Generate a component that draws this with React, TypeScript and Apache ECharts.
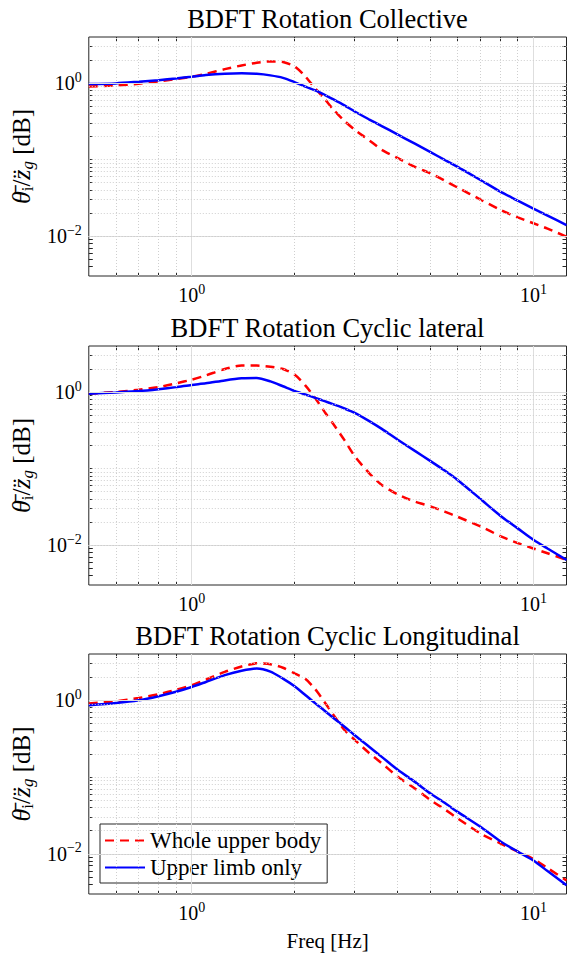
import React, { useEffect, useRef } from "react";
import * as echarts from "echarts";

// ---------- data ----------
const freq = [0.5, 0.6, 0.7, 0.8, 0.9, 1.0, 1.1, 1.25, 1.4, 1.55, 1.7, 1.85, 2.0, 2.15, 2.3, 2.45, 2.6, 2.8, 3.0, 3.3, 3.6, 4.0, 4.5, 5.0, 5.5, 6.0, 7.0, 8.0, 9.0, 10.0, 11.0, 12.5];

const collectiveWhole = [0.90, 0.93, 0.98, 1.05, 1.13, 1.21, 1.32, 1.52, 1.70, 1.84, 1.92, 1.88, 1.65, 1.22, 0.85, 0.62, 0.45, 0.32, 0.245, 0.18, 0.134, 0.105, 0.080, 0.066, 0.053, 0.043, 0.030, 0.022, 0.0175, 0.0147, 0.0125, 0.0098];
const collectiveLimb = [0.97, 0.99, 1.04, 1.09, 1.15, 1.21, 1.27, 1.32, 1.34, 1.32, 1.26, 1.17, 1.03, 0.90, 0.80, 0.70, 0.61, 0.51, 0.425, 0.336, 0.274, 0.213, 0.161, 0.125, 0.099, 0.080, 0.054, 0.038, 0.029, 0.0228, 0.0185, 0.0139];

const lateralWhole = [0.95, 1.00, 1.07, 1.16, 1.30, 1.45, 1.65, 2.00, 2.22, 2.22, 2.14, 2.0, 1.69, 1.22, 0.83, 0.55, 0.38, 0.235, 0.145, 0.088, 0.061, 0.046, 0.037, 0.032, 0.0273, 0.0234, 0.0175, 0.0131, 0.0106, 0.0090, 0.0078, 0.0064];
const lateralLimb = [0.95, 0.99, 1.03, 1.09, 1.16, 1.24, 1.30, 1.42, 1.51, 1.53, 1.38, 1.19, 1.035, 0.93, 0.84, 0.76, 0.69, 0.61, 0.535, 0.42, 0.33, 0.24, 0.170, 0.125, 0.094, 0.071, 0.040, 0.0242, 0.0165, 0.0117, 0.0090, 0.0064];

const longitudinalWhole = [0.905, 0.97, 1.07, 1.20, 1.37, 1.57, 1.85, 2.34, 2.75, 3.02, 2.95, 2.65, 2.24, 1.90, 1.39, 0.944, 0.644, 0.41, 0.305, 0.207, 0.151, 0.102, 0.0708, 0.050, 0.038, 0.029, 0.0184, 0.0137, 0.0107, 0.0086, 0.00653, 0.0045];
const longitudinalLimb = [0.86, 0.92, 1.00, 1.13, 1.29, 1.49, 1.73, 2.12, 2.42, 2.59, 2.36, 1.91, 1.52, 1.17, 0.91, 0.73, 0.587, 0.452, 0.35, 0.25, 0.183, 0.125, 0.0865, 0.061, 0.0463, 0.0352, 0.0225, 0.0146, 0.0107, 0.0082, 0.00596, 0.0039];

const panelTitles = ["BDFT Rotation Collective", "BDFT Rotation Cyclic lateral", "BDFT Rotation Cyclic Longitudinal"];
const seriesNames = ["Whole upper body", "Upper limb only"];
const xAxisTitle = "Freq [Hz]";

const xRange = [0.5, 12.5];
const yRange = [0.003, 4];
const xMajorTicks = [1, 10];
const xMinorTicks = [0.6, 0.7, 0.8, 0.9, 2, 3, 4, 5, 6, 7, 8, 9];
const yMajorTicks = [0.01, 1];
const yMinorTicks = [0.004, 0.005, 0.006, 0.007, 0.008, 0.009, 0.02, 0.03, 0.04, 0.05, 0.06, 0.07, 0.08, 0.09, 0.1, 0.2, 0.3, 0.4, 0.5, 0.6, 0.7, 0.8, 0.9, 2, 3];

const panels = [
  [collectiveWhole, collectiveLimb],
  [lateralWhole, lateralLimb],
  [longitudinalWhole, longitudinalLimb],
];

// ---------- styling ----------
const FONT = "Liberation Serif, Times New Roman, serif";
const INK = "#262626";
const gridTops = [37, 346, 654];
const gridHeights = [239, 239, 240];
const titleTops = [5, 314, 622];
const colors = ["#ff0000", "#0000ff"];

function powLabel(v: number): string {
  const e = Math.round(Math.log10(v));
  return `{b|10}{s|${e < 0 ? "\u2212" : ""}${Math.abs(e)}}`;
}

const labelRich = {
  b: { fontSize: 20, fontFamily: FONT, color: "#000", lineHeight: 26, verticalAlign: "middle" },
  s: { fontSize: 14, fontFamily: FONT, color: "#000", lineHeight: 12, verticalAlign: "top" },
};

const yNameRich = {
  it: { fontSize: 26, fontFamily: FONT, fontStyle: "italic", color: "#000", lineHeight: 30 },
  r: { fontSize: 25, fontFamily: FONT, color: "#000", lineHeight: 30 },
  sub: { fontSize: 17, fontFamily: FONT, color: "#000", lineHeight: 17, verticalAlign: "bottom" },
  subit: { fontSize: 17, fontFamily: FONT, fontStyle: "italic", color: "#000", lineHeight: 17, verticalAlign: "bottom" },
};

const majorGrid = { color: "#dedede", width: 1, type: "solid" };
const minorGrid = { color: "#cfcfcf", width: 1, type: [1, 2] };

function buildOption() {
  const grid = gridTops.map((t, i) => ({
    left: 88,
    top: t,
    width: 478.5,
    height: gridHeights[i],
    show: true,
    borderColor: INK,
    borderWidth: 1,
    backgroundColor: "transparent",
  }));

  const xAll = [...xMajorTicks, ...xMinorTicks];
  const yAll = [...yMajorTicks, ...yMinorTicks];

  const xAxis: any[] = [];
  const yAxis: any[] = [];
  gridTops.forEach((_, i) => {
    ["bottom", "top"].forEach((pos) => {
      const main = pos === "bottom";
      xAxis.push({
        type: "log",
        logBase: 10,
        gridIndex: i,
        position: pos,
        min: xRange[0],
        max: xRange[1],
        axisLine: { show: false },
        axisTick: { show: true, inside: true, length: 4, customValues: xAll, lineStyle: { color: INK, width: 1 } },
        axisLabel: { show: main, customValues: xMajorTicks, margin: 6, formatter: powLabel, rich: labelRich },
        splitLine: { show: false },
        name: main && i === 2 ? xAxisTitle : "",
        nameLocation: "middle",
        nameGap: 36,
        nameTextStyle: { fontSize: 21, fontFamily: FONT, color: "#000" },
      });
    });
    ["left", "right"].forEach((pos) => {
      const main = pos === "left";
      yAxis.push({
        type: "log",
        logBase: 10,
        gridIndex: i,
        position: pos,
        min: yRange[0],
        max: yRange[1],
        axisLine: { show: false },
        axisTick: { show: true, inside: true, length: 4, customValues: yAll, lineStyle: { color: INK, width: 1 } },
        axisLabel: { show: main, customValues: yMajorTicks, margin: 7, formatter: powLabel, rich: labelRich },
        splitLine: { show: false },
        name: main ? "{it|θ\u0304}{sub|i}{r|/}{it|z\u0308}{subit|g}{r| [dB]}" : "",
        nameLocation: "middle",
        nameRotate: 90,
        nameGap: 51,
        nameTextStyle: { rich: yNameRich, fontSize: 25, fontFamily: FONT, color: "#000" },
      });
    });
  });

  const series: any[] = [];
  panels.forEach((pair, i) => {
    const lineData = [
      ...xMajorTicks.map((v) => ({ xAxis: v, lineStyle: majorGrid })),
      ...xMinorTicks.map((v) => ({ xAxis: v, lineStyle: minorGrid })),
      ...yMajorTicks.map((v) => ({ yAxis: v, lineStyle: majorGrid })),
      ...yMinorTicks.map((v) => ({ yAxis: v, lineStyle: minorGrid })),
    ];
    series.push({
      type: "line",
      xAxisIndex: i * 2,
      yAxisIndex: i * 2,
      data: [],
      silent: true,
      z: 1,
      markLine: {
        silent: true,
        symbol: ["none", "none"],
        label: { show: false },
        emphasis: { disabled: true },
        data: lineData,
      },
    });
    pair.forEach((vals, k) => {
      series.push({
        type: "line",
        name: seriesNames[k],
        xAxisIndex: i * 2,
        yAxisIndex: i * 2,
        data: freq.map((f, j) => [f, vals[j]]),
        symbol: "none",
        showSymbol: false,
        smooth: 0.25,
        silent: true,
        z: 3 + k,
        itemStyle: { color: colors[k] },
        lineStyle: { color: colors[k], width: 2.5, type: k === 0 ? [9, 6] : "solid" },
      });
    });
  });

  return {
    animation: false,
    backgroundColor: "#fff",
    title: panelTitles.map((t, i) => ({
      text: t,
      left: 327.5,
      top: titleTops[i],
      padding: 0,
      textAlign: "center",
      textStyle: { fontSize: 26.5, fontWeight: 400, fontFamily: FONT, color: "#000" },
    })),
    legend: {
      show: true,
      left: 100,
      top: 824,
      orient: "vertical",
      itemWidth: 40,
      itemHeight: 14,
      itemGap: 4,
      padding: [5, 6, 4, 4],
      backgroundColor: "#fff",
      borderColor: INK,
      borderWidth: 1,
      borderRadius: 0,
      selectedMode: false,
      itemStyle: { opacity: 0 },
      textStyle: { fontSize: 23, fontFamily: FONT, color: "#000" },
      data: seriesNames,
    },
    grid,
    xAxis,
    yAxis,
    series,
  };
}

export default function App() {
  const ref = useRef<HTMLDivElement>(null);
  useEffect(() => {
    if (!ref.current) return;
    const chart = echarts.init(ref.current, undefined, { renderer: "svg" });
    chart.setOption(buildOption() as any);
    return () => chart.dispose();
  }, []);
  return (
    <div
      ref={ref}
      style={{ position: "absolute", left: 0, top: 0, width: 567, height: 956, background: "#fff" }}
    />
  );
}
